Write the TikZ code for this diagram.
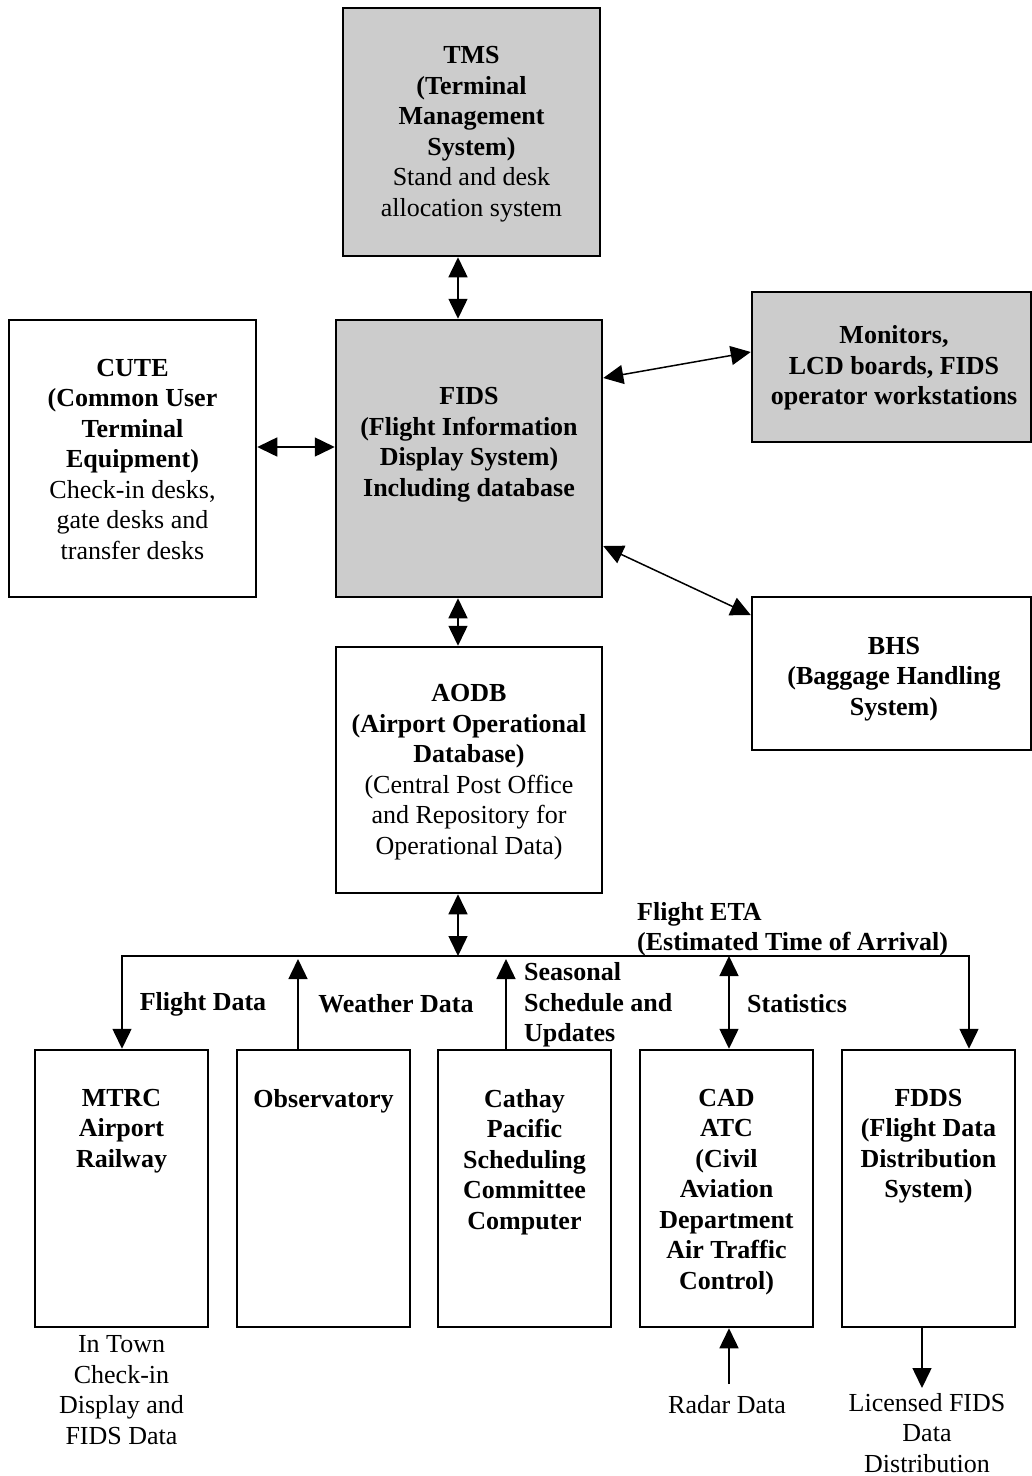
\documentclass[tikz,border=0pt]{standalone}
\usepackage{fontspec}
\setmainfont{Liberation Serif}
\usetikzlibrary{arrows.meta}
\definecolor{boxgray}{RGB}{204,204,204}
\begin{document}
\begin{tikzpicture}[x=1pt,y=-1pt,
  every node/.style={font=\fontsize{26}{30.5}\selectfont, inner sep=0pt, align=center},
  sysbox/.style={draw=black, line width=2.5pt, rectangle, fill=white},
  graybox/.style={sysbox, fill=boxgray},
  conn/.style={line width=1.5pt, draw=black},
  >={Triangle[length=20pt,width=19pt]}
]
\fill[white] (0,0) rectangle (1032,1476);
\useasboundingbox (0,0) rectangle (1032,1476);

% boxes
\node[graybox, minimum width=257pt, minimum height=248pt] (tms) at (471.5,132) {};
\node[graybox, minimum width=266pt, minimum height=277pt] (fids) at (469,458.5) {};
\node[sysbox, minimum width=247pt, minimum height=277pt] (cute) at (132.5,458.5) {};
\node[graybox, minimum width=279pt, minimum height=150pt] (mon) at (891.5,367) {};
\node[sysbox, minimum width=279pt, minimum height=153pt] (bhs) at (891.5,673.5) {};
\node[sysbox, minimum width=266pt, minimum height=246pt] (aodb) at (469,770) {};

\node[sysbox, minimum width=173pt, minimum height=277pt] (mtrc) at (121.5,1188.5) {};
\node[sysbox, minimum width=173pt, minimum height=277pt] (obs) at (323.5,1188.5) {};
\node[sysbox, minimum width=173pt, minimum height=277pt] (cx) at (524.5,1188.5) {};
\node[sysbox, minimum width=173pt, minimum height=277pt] (cad) at (726.5,1188.5) {};
\node[sysbox, minimum width=173pt, minimum height=277pt] (fdds) at (928.5,1188.5) {};

% box texts
\node (tmst) at (471.5,134) {\textbf{TMS}\\\textbf{(Terminal}\\\textbf{Management}\\\textbf{System)}\\Stand and desk\\allocation system};
\node (fidst) at (469,445) {\textbf{FIDS}\\\textbf{(Flight Information}\\\textbf{Display System)}\\\textbf{Including database}};
\node (cutet) at (132.5,459.5) {\textbf{CUTE}\\\textbf{(Common User}\\\textbf{Terminal}\\\textbf{Equipment)}\\Check-in desks,\\gate desks and\\transfer desks};
\node (mont) at (894,368) {\textbf{Monitors,}\\\textbf{LCD boards, FIDS}\\\textbf{operator workstations}};
\node (bhst) at (894,679) {\textbf{BHS}\\\textbf{(Baggage Handling}\\\textbf{System)}};
\node (aodbt) at (469,772) {\textbf{AODB}\\\textbf{(Airport Operational}\\\textbf{Database)}\\(Central Post Office\\and Repository for\\Operational Data)};

\node[anchor=north] (mtrct) at (121.5,1089) {\textbf{MTRC}\\\textbf{Airport}\\\textbf{Railway}};
\node[anchor=north] (obst) at (323.5,1089) {\textbf{Observatory}};
\node[anchor=north] (cxt) at (524.5,1089) {\textbf{Cathay}\\\textbf{Pacific}\\\textbf{Scheduling}\\\textbf{Committee}\\\textbf{Computer}};
\node[anchor=north] (cadt) at (726.5,1089) {\textbf{CAD}\\\textbf{ATC}\\\textbf{(Civil}\\\textbf{Aviation}\\\textbf{Department}\\\textbf{Air Traffic}\\\textbf{Control)}};
\node[anchor=north] (fddst) at (928.5,1089) {\textbf{FDDS}\\\textbf{(Flight Data}\\\textbf{Distribution}\\\textbf{System)}};

% labels
\node[anchor=west, align=left] (eta) at (637,929) {\textbf{Flight ETA}\\\textbf{(Estimated Time of Arrival)}};
\node (fdl) at (203,1004) {\textbf{Flight Data}};
\node (wdl) at (396,1004) {\textbf{Weather Data}};
\node[anchor=west, align=left] (ssl) at (524,1005) {\textbf{Seasonal}\\\textbf{Schedule and}\\\textbf{Updates}};
\node[anchor=west] (stl) at (747,1004) {\textbf{Statistics}};

\node (town) at (121.5,1390) {In Town\\Check-in\\Display and\\FIDS Data};
\node (radar) at (727,1405) {Radar Data};
\node (lic) at (927,1433) {Licensed FIDS\\Data\\Distribution};

% connectors
\coordinate (busL) at (122,956);
\coordinate (busR) at (969,956);
\coordinate (radarTop) at (729,1384);
\coordinate (licTop) at (922,1388);

\draw[conn,<->] (458,0 |- tms.south) -- (458,0 |- fids.north);
\draw[conn,<->] (cute.east |- 0,447) -- (fids.west |- 0,447);
\draw[conn,<->] (fids.east |- 0,378) -- (mon.west |- 0,352);
\draw[conn,<->] (fids.east |- 0,546) -- (bhs.west |- 0,615);
\draw[conn,<->] (458,0 |- fids.south) -- (458,0 |- aodb.north);
\draw[conn,<->] (458,0 |- aodb.south) -- (458,0 |- busL);
\draw[conn,<->] (122,0 |- mtrc.north) -- (busL) -- (busR) -- (969,0 |- fdds.north);
\draw[conn,->] (298,0 |- obs.north) -- (298,959);
\draw[conn,->] (506,0 |- cx.north) -- (506,959);
\draw[conn,<->] (729,0 |- busL) -- (729,0 |- cad.north);
\draw[conn,->] (radarTop) -- (729,0 |- cad.south);
\draw[conn,->] (922,0 |- fdds.south) -- (licTop);
\end{tikzpicture}
\end{document}
